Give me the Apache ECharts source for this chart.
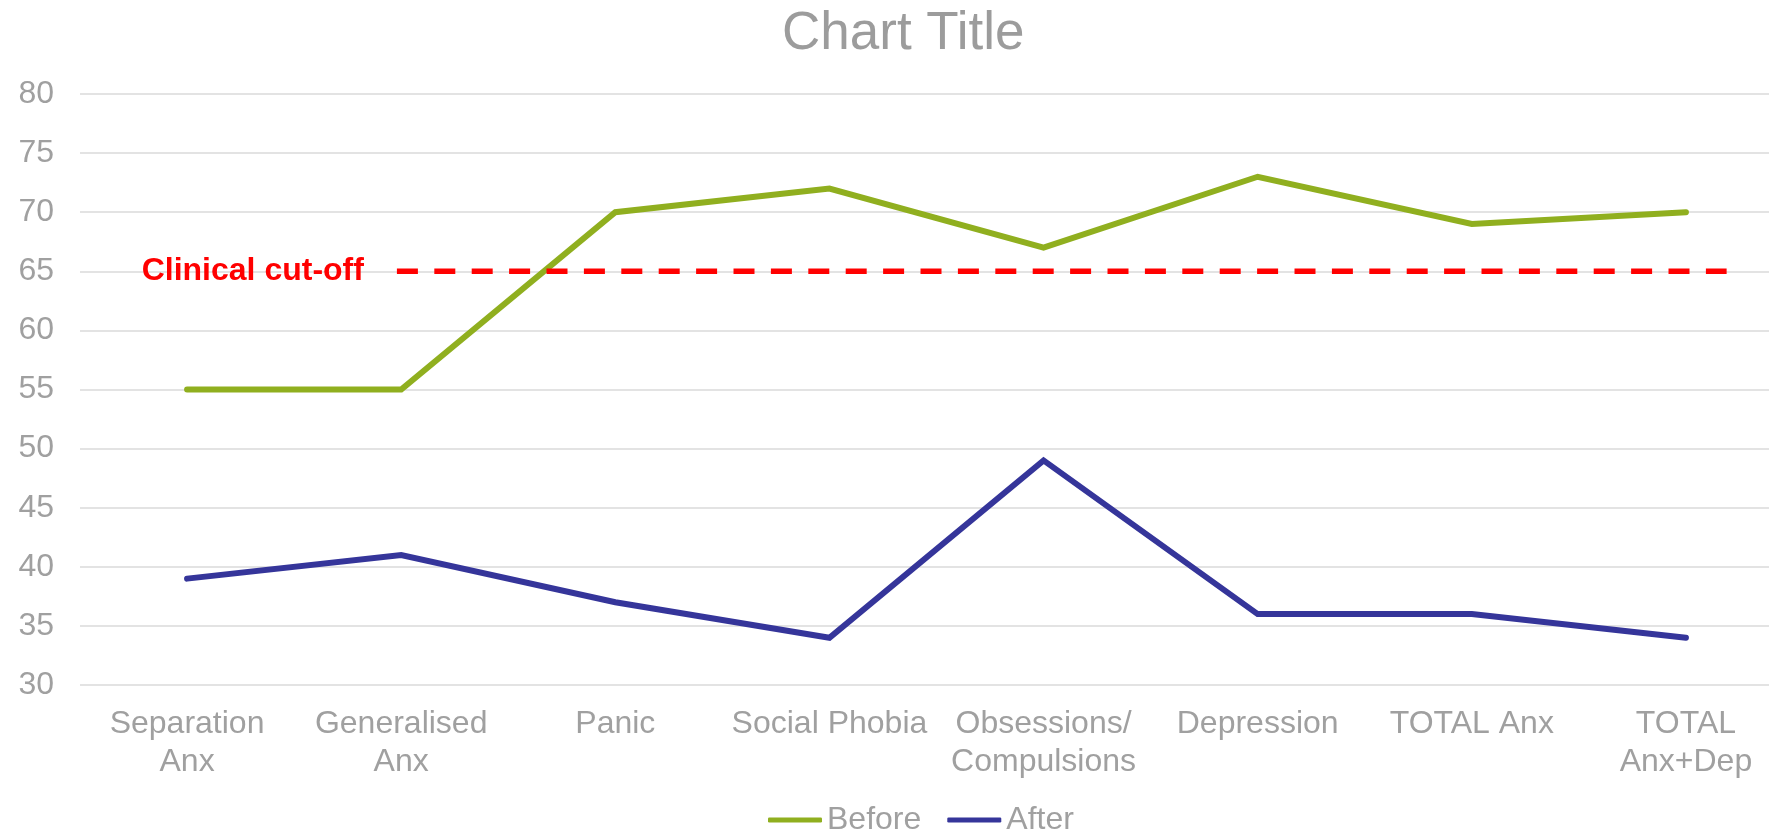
<!DOCTYPE html>
<html>
<head>
<meta charset="utf-8">
<script src="https://cdn.jsdelivr.net/npm/echarts@6/dist/echarts.min.js"></script>
<style>
html,body{margin:0;padding:0;background:#fff;}
#chart{width:1769px;height:833px;}
</style>
</head>
<body>
<div id="chart"></div>
<script>
var categories = ['Separation\nAnx', 'Generalised\nAnx', 'Panic', 'Social Phobia', 'Obsessions/\nCompulsions', 'Depression', 'TOTAL Anx', 'TOTAL\nAnx+Dep'];
var beforeValues = [55, 55, 70, 72, 67, 73, 69, 70];
var afterValues = [39, 41, 37, 34, 49, 36, 36, 34];
var cutoffValue = 65;
var cutoffStartCat = 1.48;
var cutoffEndCat = 7.69;
var yTicks = [30, 35, 40, 45, 50, 55, 60, 65, 70, 75, 80];

var FONT = '"Liberation Sans", Arial, sans-serif';
var GRAY = '#a0a0a0';

var chart = echarts.init(document.getElementById('chart'));
chart.setOption({
  animation: false,
  backgroundColor: '#ffffff',
  textStyle: { fontFamily: FONT },
  title: {
    text: 'Chart Title',
    left: 777,
    top: 3,
    textStyle: { fontFamily: FONT, fontSize: 53, fontWeight: 'normal', color: '#9c9c9c' }
  },
  legend: {
    left: 763,
    top: 799,
    itemWidth: 54,
    itemHeight: 5,
    itemGap: 26,
    icon: 'roundRect',
    data: ['Before', 'After'],
    textStyle: { fontFamily: FONT, fontSize: 32, color: GRAY }
  },
  grid: { left: 80, top: 94, bottom: 148, width: 1713, containLabel: false, outerBoundsMode: 'none' },
  xAxis: [{
    type: 'category',
    data: categories,
    boundaryGap: true,
    axisLine: { show: false },
    axisTick: { show: false },
    axisLabel: { interval: 0, color: GRAY, fontFamily: FONT, fontSize: 32, lineHeight: 38, margin: 20 }
  }, {
    type: 'value',
    min: 0,
    max: categories.length,
    show: false
  }],
  yAxis: {
    type: 'value',
    min: yTicks[0],
    max: yTicks[yTicks.length - 1],
    interval: yTicks[1] - yTicks[0],
    axisLine: { show: false },
    axisTick: { show: false },
    axisLabel: { color: GRAY, fontFamily: FONT, fontSize: 32, margin: 26 },
    splitLine: { lineStyle: { color: '#e3e3e3', width: 1.8 } }
  },
  series: [{
    name: 'Before',
    type: 'line',
    data: beforeValues,
    symbol: 'none',
    color: '#90af1f',
    lineStyle: { width: 6, color: '#90af1f', cap: 'round', join: 'miter' }
  }, {
    name: 'After',
    type: 'line',
    data: afterValues,
    symbol: 'none',
    color: '#35359a',
    lineStyle: { width: 6, color: '#35359a', cap: 'round', join: 'miter' }
  }, {
    name: 'cutoff',
    type: 'line',
    xAxisIndex: 1,
    data: [[cutoffStartCat, cutoffValue], [cutoffEndCat, cutoffValue]],
    symbol: 'circle',
    symbolSize: 0,
    silent: true,
    lineStyle: { width: 5.5, color: '#ff0000', type: [21, 16.4], cap: 'butt' },
    label: {
      show: true,
      position: 'left',
      distance: 33,
      formatter: function (p) { return p.dataIndex === 0 ? 'Clinical cut-off' : ''; },
      color: '#ff0000',
      fontFamily: FONT,
      fontSize: 32,
      fontWeight: 'bold'
    }
  }]
});
</script>
</body>
</html>
